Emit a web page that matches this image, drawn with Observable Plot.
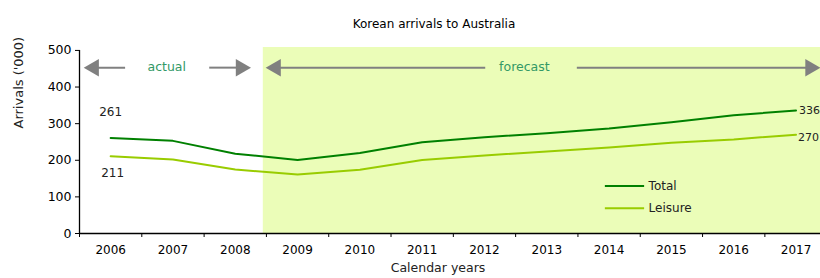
<!DOCTYPE html>
<html>
<head>
<meta charset="utf-8">
<script src="https://cdn.jsdelivr.net/npm/d3@7"></script>
<script src="https://cdn.jsdelivr.net/npm/@observablehq/plot@0.6"></script>
<style>
  html, body { margin: 0; padding: 0; background: #fff; }
  #chart svg { display: block; }
</style>
</head>
<body>
<div id="chart"></div>
<script>
// ---- data ----
const years = [2006, 2007, 2008, 2009, 2010, 2011, 2012, 2013, 2014, 2015, 2016, 2017];
const totalValues = [261, 253, 218, 201, 220, 249, 263, 274, 287, 304, 323, 336];
const leisureValues = [211, 202, 175, 161, 174, 201, 213, 224, 235, 248, 257, 270];
const seriesNames = ["Total", "Leisure"];
const yTicks = [0, 100, 200, 300, 400, 500];
const title = "Korean arrivals to Australia";
const xTitle = "Calendar years";
const yTitle = "Arrivals ('000)";
const periodLabels = ["actual", "forecast"];
const forecastStart = 2008.45;

// annotation geometry in data units
const arrowY = 453;
const arrowLines = [
  {x1: 2005.73, x2: 2006.24}, {x1: 2007.59, x2: 2008.09},
  {x1: 2008.65, x2: 2012.02}, {x1: 2013.49, x2: 2017.23}
];
const arrowHeads = [
  {x: 2005.73, dir: -90}, {x: 2008.09, dir: 90},
  {x: 2008.65, dir: -90}, {x: 2017.23, dir: 90}
];
const periodLabelX = [2006.9, 2012.64];
const legendX = [2013.94, 2014.57];
const legendY = [130, 69];

const colors = {Total: "#008000", Leisure: "#99cc00"};
const xDomain = [2005.5, 2017.393];
const yDomain = [0, 508];

const rows = [];
years.forEach((yr, i) => {
  rows.push({year: yr, value: totalValues[i], series: "Total"});
  rows.push({year: yr, value: leisureValues[i], series: "Leisure"});
});
const boundaries = years.map(y => y - 0.5);

const chart = Plot.plot({
  width: 820,
  height: 278,
  marginLeft: 79,
  marginRight: 0,
  marginTop: 47,
  marginBottom: 45,
  style: {fontFamily: "DejaVu Sans, Verdana, sans-serif", fontSize: "12px", background: "#fff", color: "#000", overflow: "visible"},
  x: {type: "linear", domain: xDomain},
  y: {domain: yDomain},
  marks: [
    Plot.rect([{}], {x1: forecastStart, x2: xDomain[1], y1: 0, y2: yDomain[1], fill: "#ebfdb8"}),
    Plot.axisY({ticks: yTicks, tickSize: 4, tickPadding: 4, label: null, fill: "#000", fontSize: 12.5}),
    Plot.ruleX([xDomain[0]], {y1: 0, y2: 500, stroke: "#000", strokeWidth: 1.3}),
    Plot.ruleY([0], {stroke: "#000", strokeWidth: 1.3}),
    Plot.axisX({ticks: boundaries, tickSize: 4, tickFormat: () => "", label: null}),
    Plot.axisX({ticks: years, tickSize: 0, tickPadding: 12, tickFormat: d => String(d), label: null, fill: "#000"}),
    Plot.line(rows, {x: "year", y: "value", z: "series", stroke: d => colors[d.series], strokeWidth: 2}),
    // value labels
    Plot.text([{x: years[0], y: totalValues[0]}], {x: "x", y: "y", text: d => String(d.y), dy: -26, fill: "#222"}),
    Plot.text([{x: years[0], y: leisureValues[0]}], {x: "x", y: "y", text: d => String(d.y), dy: 17, dx: 2, fill: "#222"}),
    Plot.text([{x: years[11], y: totalValues[11]}], {x: "x", y: "y", text: d => String(d.y), dx: 3, textAnchor: "start", fill: "#222", fontSize: 11}),
    Plot.text([{x: years[11], y: leisureValues[11]}], {x: "x", y: "y", text: d => String(d.y), dx: 2, dy: 3, textAnchor: "start", fill: "#222", fontSize: 11}),
    // period arrows
    Plot.ruleY(arrowLines, {x1: "x1", x2: "x2", y: arrowY, stroke: "#808080", strokeWidth: 2}),
    Plot.dot(arrowHeads, {x: "x", y: arrowY, symbol: "triangle", rotate: "dir", r: 6.5, fill: "#808080", stroke: null}),
    Plot.text(periodLabels, {x: (d, i) => periodLabelX[i], y: arrowY, dy: -1, text: d => d, fill: "#339966", fontSize: 12.5}),
    // legend
    Plot.ruleY(seriesNames, {x1: legendX[0], x2: legendX[1], y: (d, i) => legendY[i], stroke: d => colors[d], strokeWidth: 2}),
    Plot.text(seriesNames, {x: legendX[1], y: (d, i) => legendY[i], text: d => d, dx: 4, textAnchor: "start", fill: "#222"}),
    // titles
    Plot.text([title], {frameAnchor: "top", dx: -16, dy: -28, fill: "#000"}),
    Plot.text([xTitle], {frameAnchor: "bottom", dx: -12, dy: 38, fill: "#222", fontSize: 12.5}),
    Plot.text([yTitle], {frameAnchor: "left", dx: -61, dy: -12, rotate: -90, fill: "#222", fontSize: 13})
  ]
});
document.getElementById("chart").appendChild(chart);
</script>
</body>
</html>
